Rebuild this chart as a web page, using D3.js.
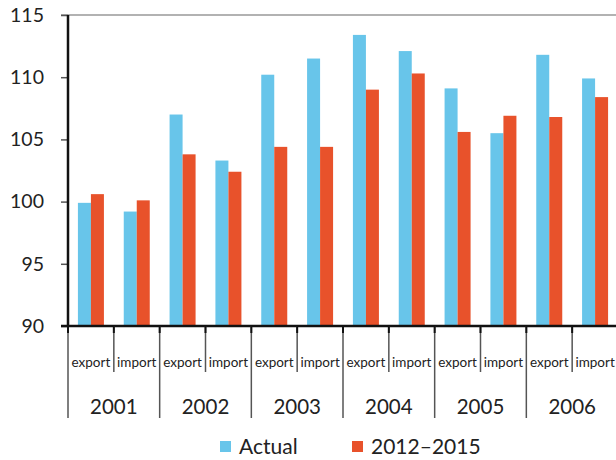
<!DOCTYPE html>
<html>
<head>
  <meta charset="utf-8">
  <script src="https://cdn.jsdelivr.net/npm/d3@7/dist/d3.min.js"></script>
  <style>
    body { margin: 0; background: #fff; }
    text { font-family: Lato, "Open Sans", sans-serif; fill: #222; }
  </style>
</head>
<body>
  <svg id="chart" width="616" height="460"></svg>
  <script>
    // data
    const years = ['2001', '2002', '2003', '2004', '2005', '2006'];
    const flows = ['export', 'import'];
    const seriesNames = ['Actual', '2012–2015'];
    const actual = [99.9, 99.2, 107.0, 103.3, 110.2, 111.5, 113.4, 112.1, 109.1, 105.5, 111.8, 109.9];
    const target = [100.6, 100.1, 103.8, 102.4, 104.4, 104.4, 109.0, 110.3, 105.6, 106.9, 106.8, 108.4];
    const yTicks = [90, 95, 100, 105, 110, 115];

    const colors = ['#68c5ea', '#e8522b'];

    const svg = d3.select('#chart');
    const plotLeft = 68, plotRight = 618, plotTop = 15, plotBottom = 326;

    // one slot per year/flow pair
    const slots = [];
    years.forEach(y => flows.forEach(f => slots.push(y + '-' + f)));

    const x = d3.scaleBand().domain(slots).range([plotLeft, plotRight]);
    const y = d3.scaleLinear().domain([90, 115]).range([plotBottom, plotTop]);
    const barW = 13;
    const sub = d3.scaleBand().domain(seriesNames)
      .range([(x.bandwidth() - 2 * barW) / 2, (x.bandwidth() + 2 * barW) / 2]);

    // top frame line
    svg.append('line')
      .attr('x1', plotLeft - 7).attr('x2', 616)
      .attr('y1', y(115)).attr('y2', y(115))
      .attr('stroke', '#999').attr('stroke-width', 1.5);

    // bars
    const values = [actual, target];
    seriesNames.forEach((s, si) => {
      svg.append('g').selectAll('rect')
        .data(values[si])
        .join('rect')
        .attr('x', (d, i) => x(slots[i]) + sub(s))
        .attr('y', d => y(d))
        .attr('width', sub.bandwidth())
        .attr('height', d => y(90) - y(d))
        .attr('fill', colors[si]);
    });

    // y axis
    const yAxis = svg.append('g')
      .attr('transform', `translate(${plotLeft},0)`)
      .call(d3.axisLeft(y).tickValues(yTicks).tickSize(7).tickPadding(17).tickFormat(d3.format('d')));
    yAxis.select('.domain').remove();
    yAxis.selectAll('.tick line').attr('stroke', '#555').attr('stroke-width', 1.5);
    yAxis.selectAll('.tick text').style('font-size', '19.5px').attr('fill', '#222');

    svg.append('line')
      .attr('x1', plotLeft).attr('x2', plotLeft)
      .attr('y1', y(115)).attr('y2', y(90))
      .attr('stroke', '#111').attr('stroke-width', 2.5);
    svg.append('line')
      .attr('x1', plotLeft - 7).attr('x2', 616)
      .attr('y1', y(90)).attr('y2', y(90))
      .attr('stroke', '#111').attr('stroke-width', 2.5);

    // category separators and labels
    const sep = svg.append('g');
    slots.forEach((s, i) => {
      const long = i % 2 === 0;
      const xs = x(s);
      sep.append('line')
        .attr('x1', xs).attr('x2', xs)
        .attr('y1', plotBottom).attr('y2', long ? 418 : 372)
        .attr('stroke', '#555').attr('stroke-width', 1.5);
      sep.append('line')
        .attr('x1', xs).attr('x2', xs)
        .attr('y1', plotBottom).attr('y2', plotBottom + 7)
        .attr('stroke', '#111').attr('stroke-width', 2);
      sep.append('text')
        .attr('x', xs + x.bandwidth() / 2)
        .attr('y', 362)
        .attr('dy', '0.35em')
        .attr('text-anchor', 'middle')
        .style('font-size', '13.5px')
        .attr('fill', '#333')
        .text(s.split('-')[1]);
    });

    years.forEach(yr => {
      sep.append('text')
        .attr('x', x(yr + '-export') + x.bandwidth())
        .attr('y', 407)
        .attr('dy', '0.35em')
        .attr('text-anchor', 'middle')
        .style('font-size', '20.5px')
        .text(yr);
    });

    // legend
    const legendX = [220, 352];
    seriesNames.forEach((s, i) => {
      const g = svg.append('g').attr('transform', `translate(${legendX[i]},441)`);
      g.append('rect').attr('width', 11).attr('height', 11).attr('fill', colors[i]);
      g.append('text')
        .attr('x', 19).attr('y', 6)
        .attr('dy', '0.35em')
        .style('font-size', '21px')
        .text(s);
    });
  </script>
</body>
</html>
